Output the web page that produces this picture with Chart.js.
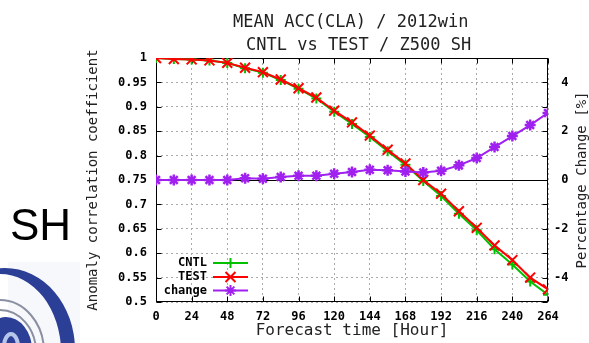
<!DOCTYPE html>
<html>
<head>
<meta charset="utf-8">
<script src="https://cdn.jsdelivr.net/npm/chart.js"></script>
<style>
  body { margin: 0; background: #fff; }
  #wrap { width: 589px; height: 343px; }
</style>
</head>
<body>
<div id="wrap"><canvas id="acc" width="589" height="343"></canvas></div>
<script>
// forecast hours and scores
var hours = [0, 12, 24, 36, 48, 60, 72, 84, 96, 108, 120, 132, 144, 156, 168, 180, 192, 204, 216, 228, 240, 252, 264];
var cntl = [1.000, 0.998, 0.997, 0.995, 0.990, 0.979, 0.970, 0.955, 0.937, 0.917, 0.890, 0.865, 0.838, 0.809, 0.781, 0.748, 0.717, 0.681, 0.647, 0.608, 0.577, 0.542, 0.515];
var test = [1.000, 0.998, 0.997, 0.995, 0.990, 0.980, 0.971, 0.956, 0.938, 0.919, 0.892, 0.868, 0.841, 0.812, 0.784, 0.750, 0.722, 0.686, 0.652, 0.616, 0.586, 0.550, 0.526];
var change = [0, 0, 0, 0, 0, 0.07, 0.05, 0.12, 0.17, 0.17, 0.26, 0.33, 0.42, 0.40, 0.35, 0.31, 0.38, 0.60, 0.90, 1.35, 1.80, 2.25, 2.75];
var y2Ticks = [-4, -2, 0, 2, 4];

var titleLines = ['MEAN ACC(CLA) / 2012win', 'CNTL vs TEST / Z500 SH'];
var y2Title = 'Percentage Change [%]';

var mono = "'DejaVu Sans Mono', monospace";

function pts(vals) {
  return hours.map(function (h, i) { return { x: h, y: vals[i] }; });
}

function drawLogo(ctx) {
  ctx.save();
  ctx.beginPath();
  ctx.rect(0, 262, 80, 81);
  ctx.clip();
  ctx.fillStyle = '#f7f8fb';
  ctx.fillRect(8, 262, 72, 81);
  // outer crescent
  ctx.fillStyle = '#2c3f96';
  ctx.beginPath();
  ctx.ellipse(5, 350, 70, 82, 0, 0, Math.PI * 2);
  ctx.ellipse(0, 352, 61, 78, 0, 0, Math.PI * 2, true);
  ctx.fill('evenodd');
  // thin grey rings
  ctx.strokeStyle = '#8a90a2';
  ctx.lineWidth = 2;
  ctx.beginPath();
  ctx.ellipse(0, 352, 44, 52, 0, 0, Math.PI * 2);
  ctx.stroke();
  ctx.beginPath();
  ctx.ellipse(0, 352, 36, 42, 0, 0, Math.PI * 2);
  ctx.stroke();
  // inner mark
  ctx.fillStyle = '#2c3f96';
  ctx.beginPath();
  ctx.ellipse(6, 350, 26, 33, 0, 0, Math.PI * 2);
  ctx.fill();
  ctx.strokeStyle = '#b6c6ea';
  ctx.lineWidth = 4;
  ctx.beginPath();
  ctx.ellipse(11, 347, 7, 13, 0, 0, Math.PI * 2);
  ctx.stroke();
  ctx.restore();
}

// page decorations: titles, region label, logo, right axis label
var decor = {
  id: 'decor',
  beforeDraw: function (chart) {
    var ctx = chart.ctx;
    ctx.save();
    ctx.fillStyle = '#fff';
    ctx.fillRect(0, 0, chart.width, chart.height);
    ctx.fillStyle = '#222';
    ctx.font = '17px ' + mono;
    ctx.textBaseline = 'middle';
    ctx.textAlign = 'left';
    ctx.fillText(titleLines[0], 233, 22.5);
    ctx.fillText(titleLines[1], 246, 45.5);
    ctx.fillStyle = '#000';
    ctx.font = "44px 'Liberation Sans', Arial, sans-serif";
    ctx.textBaseline = 'alphabetic';
    ctx.fillText('SH', 10, 240);
    // y2 label reads bottom to top like the left one
    var y2 = chart.scales.y2;
    ctx.translate(582, (y2.top + y2.bottom) / 2);
    ctx.rotate(-Math.PI / 2);
    ctx.fillStyle = '#222';
    ctx.font = '14px ' + mono;
    ctx.textAlign = 'center';
    ctx.textBaseline = 'middle';
    ctx.fillText(y2Title, 0, 0);
    ctx.restore();
    drawLogo(ctx);
  }
};

// border box, inward tics and the zero line of the right axis
var frame = {
  id: 'frame',
  beforeDatasetsDraw: function (chart) {
    var ctx = chart.ctx, a = chart.chartArea, s = chart.scales;
    var L = Math.round(a.left) + 0.5, R = Math.round(a.right) - 0.5;
    var T = Math.round(a.top) + 0.5, B = Math.round(a.bottom) - 0.5;
    ctx.save();
    ctx.strokeStyle = '#000';
    ctx.lineWidth = 1;
    ctx.beginPath();
    var y0 = Math.round(s.y2.getPixelForValue(0)) + 0.5;
    ctx.moveTo(L, y0); ctx.lineTo(R, y0);
    s.x.ticks.forEach(function (t) {
      var x = Math.round(s.x.getPixelForValue(t.value)) + 0.5;
      ctx.moveTo(x, B); ctx.lineTo(x, B - 5);
      ctx.moveTo(x, T); ctx.lineTo(x, T + 5);
    });
    s.y.ticks.forEach(function (t) {
      var y = Math.round(s.y.getPixelForValue(t.value)) + 0.5;
      ctx.moveTo(L, y); ctx.lineTo(L + 5, y);
      ctx.moveTo(R, y); ctx.lineTo(R - 5, y);
    });
    ctx.stroke();
    ctx.strokeRect(L, T, R - L, B - T);
    ctx.restore();
  }
};

// gnuplot style key: label on the left, sample line with marker on the right
var key = {
  id: 'key',
  afterDatasetsDraw: function (chart) {
    var ctx = chart.ctx;
    var rows = [263, 277, 290.5];
    ctx.save();
    ctx.font = 'bold 12px ' + mono;
    ctx.textAlign = 'right';
    ctx.textBaseline = 'middle';
    chart.data.datasets.forEach(function (ds, i) {
      var y = rows[i];
      ctx.fillStyle = '#000';
      ctx.fillText(ds.label, 207, y);
      ctx.strokeStyle = ds.borderColor;
      ctx.lineWidth = ds.borderWidth;
      ctx.beginPath();
      ctx.moveTo(213, y); ctx.lineTo(248, y);
      ctx.stroke();
      Chart.helpers.drawPoint(ctx, {
        pointStyle: ds.pointStyle,
        radius: ds.pointRadius,
        borderWidth: ds.pointBorderWidth
      }, 230.5, y);
    });
    ctx.restore();
  }
};

new Chart(document.getElementById('acc'), {
  type: 'line',
  data: {
    datasets: [
      {
        label: 'CNTL',
        data: pts(cntl),
        yAxisID: 'y',
        borderColor: '#00c000',
        backgroundColor: '#00c000',
        borderWidth: 2,
        pointStyle: 'cross',
        pointRadius: 5,
        pointBorderWidth: 2,
        order: 2
      },
      {
        label: 'TEST',
        data: pts(test),
        yAxisID: 'y',
        borderColor: '#ff0000',
        backgroundColor: '#ff0000',
        borderWidth: 2,
        pointStyle: 'crossRot',
        pointRadius: 7,
        pointBorderWidth: 2,
        order: 1
      },
      {
        label: 'change',
        data: pts(change),
        yAxisID: 'y2',
        borderColor: '#a020f0',
        backgroundColor: '#a020f0',
        borderWidth: 2,
        pointStyle: 'star',
        pointRadius: 5.5,
        pointBorderWidth: 2.5,
        order: 0
      }
    ]
  },
  options: {
    responsive: false,
    animation: false,
    layout: { padding: { left: 80, right: 0, top: 58, bottom: 0 } },
    plugins: {
      legend: { display: false },
      tooltip: { enabled: false }
    },
    scales: {
      x: {
        type: 'linear',
        min: 0,
        max: 264,
        ticks: { stepSize: 24, padding: 8, color: '#000', font: { family: mono, size: 12, weight: 'bold' } },
        grid: { color: '#aaa', drawTicks: false },
        border: { display: false, dash: [2, 3] },
        title: { display: true, text: 'Forecast time [Hour]', color: '#222', font: { family: mono, size: 16 }, padding: { top: 0, bottom: 3 } },
        afterFit: function (s) { s.height = 41; }
      },
      y: {
        position: 'left',
        min: 0.5,
        max: 1,
        ticks: {
          stepSize: 0.05,
          padding: 9,
          color: '#000',
          font: { family: mono, size: 12, weight: 'bold' },
          callback: function (v) { return String(+v.toFixed(2)); }
        },
        grid: { color: '#aaa', drawTicks: false },
        border: { display: false, dash: [2, 3] },
        title: { display: true, text: 'Anomaly correlation coefficient', color: '#222', font: { family: mono, size: 14 }, padding: { top: 5, bottom: 0 } },
        afterFit: function (s) { s.width = 76; }
      },
      y2: {
        position: 'right',
        min: -5,
        max: 5,
        afterBuildTicks: function (s) { s.ticks = y2Ticks.map(function (v) { return { value: v }; }); },
        ticks: {
          padding: 6,
          color: '#000',
          font: { family: mono, size: 12, weight: 'bold' },
          callback: function (v) { return v < 0 ? String(v) : ' ' + v; }
        },
        grid: { display: false, drawTicks: false },
        border: { display: false },
        afterFit: function (s) { s.width = 41; }
      }
    }
  },
  plugins: [decor, frame, key]
});
</script>
</body>
</html>
